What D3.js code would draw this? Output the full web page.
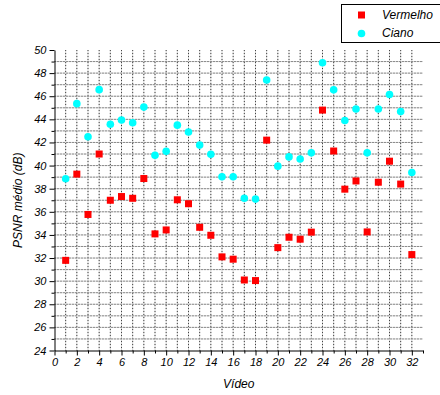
<!DOCTYPE html>
<html>
<head>
<meta charset="utf-8">
<script src="https://cdn.jsdelivr.net/npm/d3@7"></script>
<style>
  body { margin: 0; background: #fff; }
  text { font-family: "Liberation Sans", Arial, sans-serif; font-style: italic; }
</style>
</head>
<body>
<script>
// data
const videos = d3.range(1, 33);
const vermelho = [31.8, 39.26, 35.77, 41.0, 37.0, 37.32, 37.17, 38.88, 34.09, 34.43,
  37.04, 36.7, 34.66, 33.97, 32.1, 31.9, 30.1, 30.05, 42.2, 32.9,
  33.8, 33.63, 34.24, 44.8, 41.26, 37.96, 38.67, 34.26, 38.56, 40.38, 38.4, 32.3];
const ciano = [38.86, 45.36, 42.5, 46.57, 43.57, 43.94, 43.7, 45.06, 40.9, 41.23,
  43.5, 42.9, 41.77, 40.97, 39.03, 39.03, 37.17, 37.1, 47.4, 39.95,
  40.75, 40.57, 41.1, 48.9, 46.55, 43.9, 44.9, 41.1, 44.9, 46.15, 44.67, 39.4];
const seriesNames = ["Vermelho", "Ciano"];
const xTicks = d3.range(0, 33, 2);
const yTicks = d3.range(24, 51, 2);

const width = 440, height = 395;
const plotLeft = 54.5, plotRight = 423, plotTop = 50, plotBottom = 350.5;

const svg = d3.select('body').append('svg')
  .attr('width', width)
  .attr('height', height);

const x = d3.scaleLinear().domain([0, 33]).range([plotLeft, plotRight]);
const y = d3.scaleLinear().domain([24, 50]).range([plotBottom, plotTop]);

// grid lines
const grid = svg.append('g');
d3.range(1, 33).forEach(v => {
  grid.append('line').attr('x1', x(v)).attr('x2', x(v)).attr('y1', plotTop).attr('y2', plotBottom)
    .attr('stroke', '#d0d0d0');
  grid.append('line').attr('x1', x(v)).attr('x2', x(v)).attr('y1', plotTop).attr('y2', plotBottom)
    .attr('stroke', '#444').attr('stroke-dasharray', '1,2');
});
d3.range(25, 50).forEach(v => {
  grid.append('line').attr('x1', plotLeft).attr('x2', plotRight).attr('y1', y(v)).attr('y2', y(v))
    .attr('stroke', '#d0d0d0');
  grid.append('line').attr('x1', plotLeft).attr('x2', plotRight).attr('y1', y(v)).attr('y2', y(v))
    .attr('stroke', '#444').attr('stroke-dasharray', '1,2');
});

// minor ticks
svg.append('g')
  .attr('transform', `translate(0, ${plotBottom})`)
  .call(d3.axisBottom(x).tickValues(d3.range(1, 34, 2)).tickSize(3).tickFormat(''))
  .call(g => g.select('.domain').remove());
svg.append('g')
  .attr('transform', `translate(${plotLeft}, 0)`)
  .call(d3.axisLeft(y).tickValues(d3.range(25, 50, 2)).tickSize(3).tickFormat(''))
  .call(g => g.select('.domain').remove());

// axes
const xAxis = svg.append('g')
  .attr('transform', `translate(0, ${plotBottom})`)
  .call(d3.axisBottom(x).tickValues(xTicks).tickSize(5).tickPadding(3).tickSizeOuter(0));
const yAxis = svg.append('g')
  .attr('transform', `translate(${plotLeft}, 0)`)
  .call(d3.axisLeft(y).tickValues(yTicks).tickSize(5).tickPadding(3).tickSizeOuter(0));
[xAxis, yAxis].forEach(a => {
  a.selectAll('text').style('font-size', '11px').attr('fill', '#000');
  a.selectAll('line, path').attr('stroke', '#000');
});

// points
svg.append('g').selectAll('rect')
  .data(vermelho)
  .enter()
    .append('rect')
      .attr('x', (d, i) => x(videos[i]) - 3.5)
      .attr('y', d => y(d) - 3.5)
      .attr('width', 7)
      .attr('height', 7)
      .attr('fill', '#ff0000');

svg.append('g').selectAll('circle')
  .data(ciano)
  .enter()
    .append('circle')
      .attr('cx', (d, i) => x(videos[i]))
      .attr('cy', d => y(d))
      .attr('r', 3.8)
      .attr('fill', '#00ffff');

// axis titles
svg.append('text')
  .attr('x', (plotLeft + plotRight) / 2)
  .attr('y', 388)
  .attr('text-anchor', 'middle')
  .style('font-size', '12px')
  .text('Vídeo');
svg.append('text')
  .attr('transform', `translate(22, ${(plotTop + plotBottom) / 2}) rotate(-90)`)
  .attr('text-anchor', 'middle')
  .style('font-size', '12px')
  .text('PSNR médio (dB)');

// legend
const legend = svg.append('g');
legend.append('rect')
  .attr('x', 341.5).attr('y', 4.5).attr('width', 110).attr('height', 38)
  .attr('fill', '#fff').attr('stroke', '#000');
legend.append('rect')
  .attr('x', 358).attr('y', 11.5).attr('width', 7).attr('height', 7)
  .attr('fill', '#ff0000');
legend.append('circle')
  .attr('cx', 361.5).attr('cy', 33.5).attr('r', 3.8)
  .attr('fill', '#00ffff');
legend.selectAll('text.lg')
  .data(seriesNames)
  .enter()
    .append('text')
      .attr('x', 382)
      .attr('y', (d, i) => 19 + i * 18)
      .style('font-size', '12px')
      .text(d => d);
</script>
</body>
</html>
